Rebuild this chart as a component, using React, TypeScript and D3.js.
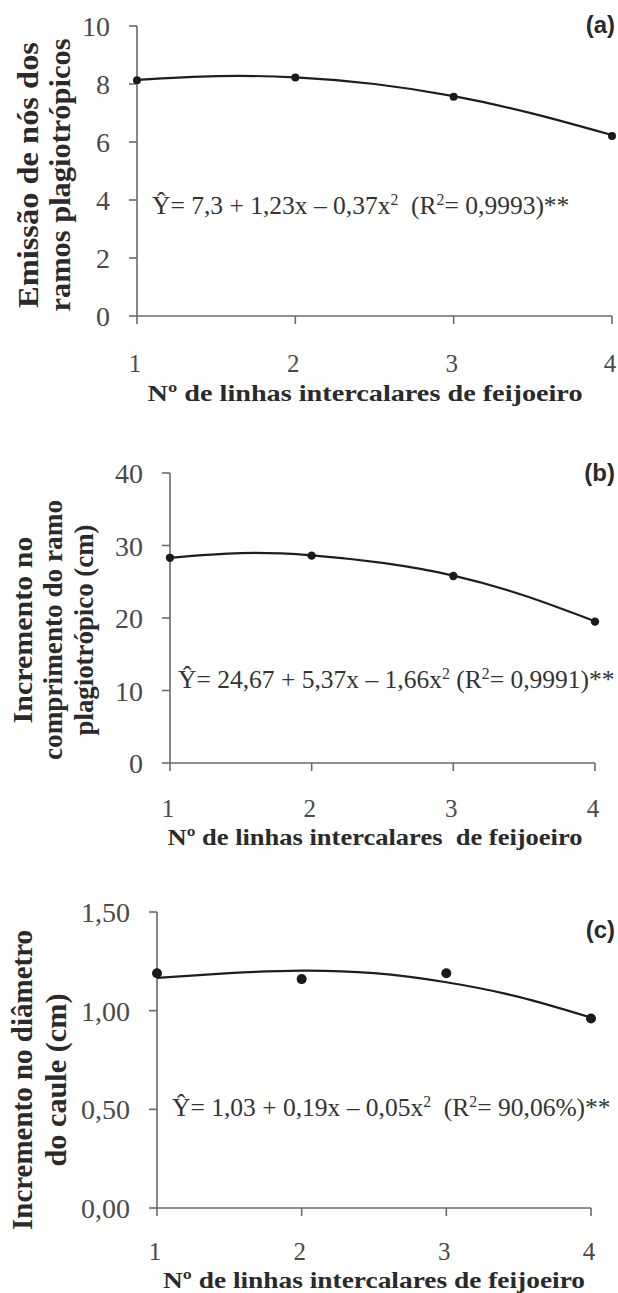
import React from 'react';
import * as d3 from 'd3';

// observed means at each number of bean rows
const rows = [1, 2, 3, 4];
const nodesObs = [8.13, 8.22, 7.56, 6.21];
const lengthObs = [28.3, 28.6, 25.8, 19.5];
const diamObs = [1.19, 1.16, 1.19, 0.96];

// fitted curve
const fitX = [1, 1.5, 2, 2.5, 3, 3.5, 4];
const nodesFit = [8.14, 8.27, 8.23, 8.0, 7.58, 6.98, 6.24];
const lengthFit = [28.3, 28.95, 28.65, 27.6, 25.85, 23.1, 19.55];
const diamFit = [1.166, 1.19, 1.203, 1.19, 1.144, 1.07, 0.965];

const nodesTicks = [0, 2, 4, 6, 8, 10];
const lengthTicks = [0, 10, 20, 30, 40];
const diamTicks = [0, 0.5, 1.0, 1.5];

const xTitle = 'Nº de linhas intercalares de feijoeiro';
const xTitleB = 'Nº de linhas intercalares  de feijoeiro';

const eqA = [
  { t: 'Ŷ= 7,3 + 1,23x – 0,37x' }, { t: '2', sup: true },
  { t: '  (R' }, { t: '2', sup: true }, { t: '= 0,9993)**' },
];
const eqB = [
  { t: 'Ŷ= 24,67 + 5,37x – 1,66x' }, { t: '2', sup: true },
  { t: ' (R' }, { t: '2', sup: true }, { t: '= 0,9991)**' },
];
const eqC = [
  { t: 'Ŷ= 1,03 + 0,19x – 0,05x' }, { t: '2', sup: true },
  { t: '  (R' }, { t: '2', sup: true }, { t: '= 90,06%)**' },
];

const serif = 'Liberation Serif, Times New Roman, serif';
const sans = 'Liberation Sans, Arial, sans-serif';

type Seg = { t: string; sup?: boolean };

type PanelProps = {
  x0: number; x1: number; yTop: number; yBot: number;
  yMax: number; yTicks: number[]; yFmt: (v: number) => string;
  obs: number[]; fit: number[]; dotR: number;
  titleLines: string[]; titleBase: number[]; titleCy: number; titleLens: number[]; titleSize: number;
  xLabelY: number; xt: string; xtY: number; xtCx: number; xtLen: number;
  eq: Seg[]; eqX: number; eqY: number; eqSize: number;
  tag: string; tagY: number;
};

const Panel = (p: PanelProps) => {
  const x = d3.scaleLinear().domain([1, 4]).range([p.x0, p.x1]);
  const y = d3.scaleLinear().domain([0, p.yMax]).range([p.yBot, p.yTop]);
  const line = d3.line<number>()
    .x((_, i) => x(fitX[i]))
    .y(d => y(d))
    .curve(d3.curveNatural);
  const axisColor = '#6a6a6a';
  const supShift = Math.round(p.eqSize * 0.36);

  return (
    <g>
      {/* y axis */}
      <line x1={p.x0} x2={p.x0} y1={p.yTop} y2={p.yBot} stroke={axisColor} strokeWidth={1.6} />
      {p.yTicks.map(t => (
        <g key={t}>
          <line x1={p.x0 - 8} x2={p.x0} y1={y(t)} y2={y(t)} stroke={axisColor} strokeWidth={1.6} />
          <text x={p.x0 - 27} y={y(t)} dy="0.36em" textAnchor="end" fontFamily={serif}
            fontSize={28} fill="#4a4a4a">{p.yFmt(t)}</text>
        </g>
      ))}
      {/* x axis */}
      <line x1={p.x0} x2={p.x1} y1={p.yBot} y2={p.yBot} stroke={axisColor} strokeWidth={1.6} />
      {rows.map(r => (
        <g key={r}>
          <line x1={x(r)} x2={x(r)} y1={p.yBot} y2={p.yBot + 8} stroke={axisColor} strokeWidth={1.6} />
          <text x={x(r) - 2} y={p.xLabelY} textAnchor="middle" fontFamily={serif}
            fontSize={25} fill="#4a4a4a">{r}</text>
        </g>
      ))}
      <text x={p.xtCx} y={p.xtY} textAnchor="middle" fontFamily={serif} fontWeight="bold"
        fontSize={23} fill="#2a2a2a" textLength={p.xtLen} lengthAdjust="spacingAndGlyphs"
        style={{ whiteSpace: 'pre' }}>{p.xt}</text>

      {/* y title */}
      {p.titleLines.map((s, i) => (
        <text key={s} transform={`translate(${p.titleBase[i]},${p.titleCy}) rotate(-90)`}
          textAnchor="middle" fontFamily={serif} fontWeight="bold" fontSize={p.titleSize}
          fill="#2a2a2a" textLength={p.titleLens[i]} lengthAdjust="spacingAndGlyphs">{s}</text>
      ))}

      {/* fitted curve and means */}
      <path d={line(p.fit) || ''} fill="none" stroke="#1e1e1e" strokeWidth={2.2} />
      {p.obs.map((v, i) => (
        <circle key={i} cx={x(rows[i])} cy={y(v)} r={p.dotR} fill="#1a1a1a" />
      ))}

      {/* equation */}
      <text x={p.eqX} y={p.eqY} fontFamily={serif} fontSize={p.eqSize} fill="#333"
        style={{ whiteSpace: 'pre' }}>
        {p.eq.map((s, i) => {
          const prev = i > 0 && p.eq[i - 1].sup;
          const dy = s.sup ? -supShift : prev ? supShift : 0;
          return (
            <tspan key={i} dy={dy} fontSize={s.sup ? p.eqSize * 0.62 : p.eqSize}>{s.t}</tspan>
          );
        })}
      </text>

      <text x={615} y={p.tagY} textAnchor="end" fontFamily={sans} fontWeight="bold"
        fontSize={24} fill="#2a2a2a">{p.tag}</text>
    </g>
  );
};

const fmtInt = (v: number) => d3.format('d')(v);
const fmtComma = (v: number) => d3.format('.2f')(v).replace('.', ',');

export default function App() {
  return (
    <svg width={618} height={1293} style={{ position: 'absolute', left: 0, top: 0, background: '#fff' }}>
      <Panel
        x0={137} x1={612} yTop={26} yBot={316} yMax={10} yTicks={nodesTicks} yFmt={fmtInt}
        obs={nodesObs} fit={nodesFit} dotR={4}
        titleLines={['Emissão de nós dos', 'ramos plagiotrópicos']} titleBase={[38, 70]}
        titleCy={175} titleLens={[266, 273]} titleSize={30}
        xLabelY={372} xt={xTitle} xtY={401} xtCx={365} xtLen={435}
        eq={eqA} eqX={152} eqY={214} eqSize={25.5}
        tag="(a)" tagY={33}
      />
      <Panel
        x0={170} x1={595} yTop={473} yBot={763} yMax={40} yTicks={lengthTicks} yFmt={fmtInt}
        obs={lengthObs} fit={lengthFit} dotR={4.2}
        titleLines={['Incremento no', 'comprimento do ramo', 'plagiotrópico (cm)']} titleBase={[32, 62, 93]}
        titleCy={630} titleLens={[187, 260, 211]} titleSize={27}
        xLabelY={817} xt={xTitleB} xtY={845} xtCx={375} xtLen={415}
        eq={eqB} eqX={178} eqY={688} eqSize={25.5}
        tag="(b)" tagY={481}
      />
      <Panel
        x0={157} x1={591} yTop={912} yBot={1208} yMax={1.5} yTicks={diamTicks} yFmt={fmtComma}
        obs={diamObs} fit={diamFit} dotR={5}
        titleLines={['Incremento no diâmetro', 'do caule (cm)']} titleBase={[32, 66]}
        titleCy={1080} titleLens={[300, 173]} titleSize={29}
        xLabelY={1260} xt={xTitle} xtY={1288} xtCx={374} xtLen={422}
        eq={eqC} eqX={172} eqY={1116} eqSize={25.5}
        tag="(c)" tagY={938}
      />
    </svg>
  );
}
